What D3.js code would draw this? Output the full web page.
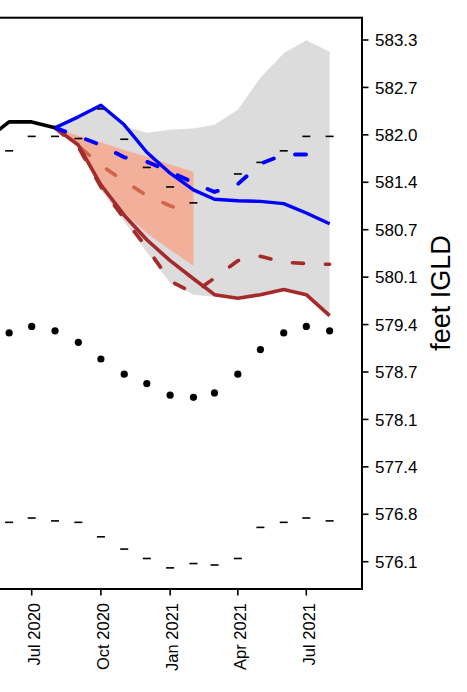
<!DOCTYPE html>
<html><head><meta charset="utf-8">
<script src="https://cdn.jsdelivr.net/npm/d3@7"></script>
<style>body{margin:0;background:#fff}svg{display:block}text{font-family:"Liberation Sans",Arial,Helvetica,sans-serif;fill:#000}</style>
</head><body><svg id="c" width="467" height="692"></svg>
<script>
// ---- data (feet IGLD) ----
const recordedMonths = ["2020-05","2020-06","2020-07","2020-08"];
const recorded = [581.95, 582.20, 582.20, 582.12];

const statMonths = ["2020-06","2020-07","2020-08","2020-09","2020-10","2020-11","2020-12","2021-01","2021-02","2021-03","2021-04","2021-05","2021-06","2021-07","2021-08"];
const recordHigh  = [581.80, 582.00, 582.00, 581.97, 582.38, 581.96, 581.57, 581.30, 581.08, 581.25, 581.48, 581.64, 581.80, 582.00, 582.00];
const longTermAvg = [579.28, 579.37, 579.31, 579.15, 578.92, 578.71, 578.58, 578.42, 578.39, 578.45, 578.71, 579.05, 579.28, 579.37, 579.31];
const recordLow   = [576.66, 576.72, 576.68, 576.66, 576.46, 576.29, 576.16, 576.03, 576.09, 576.07, 576.16, 576.59, 576.66, 576.72, 576.68];

const forecastMonths = ["2020-08","2020-09","2020-10","2020-11","2020-12","2021-01","2021-02","2021-03","2021-04","2021-05","2021-06","2021-07","2021-08"];
const blueSolid  = [582.12, 582.27, 582.43, 582.16, 581.78, 581.49, 581.26, 581.13, 581.11, 581.10, 581.07, 580.94, 580.79];
const blueDashed = [582.12, 582.00, 581.88, 581.71, 581.65, 581.51, 581.36, 581.23, 581.34, 581.62, 581.75, 581.75];
const redSolid   = [582.12, 581.88, 581.33, 580.91, 580.57, 580.28, 580.03, 579.81, 579.76, 579.81, 579.88, 579.81, 579.52];
const redDashed  = [582.12, 581.85, 581.30, 580.86, 580.46, 580.00, 579.83, 580.04, 580.28, 580.34, 580.26, 580.24, 580.23];
const grayUpper  = [582.12, 582.27, 582.43, 582.14, 582.05, 582.09, 582.11, 582.16, 582.37, 582.81, 583.15, 583.33, 583.17];
const grayLower  = [582.12, 581.84, 581.26, 580.82, 580.40, 579.97, 579.81, 579.78, 579.75, 579.79, 579.86, 579.79, 579.52];

const shortMonths = ["2020-08","2020-09","2020-10","2020-11","2020-12","2021-01","2021-02"];
const salmonUpper  = [582.12, 582.01, 581.92, 581.81, 581.72, 581.61, 581.51];
const salmonLower  = [582.12, 581.87, 581.37, 580.95, 580.66, 580.43, 580.21];
const salmonDashed = [582.12, 581.87, 581.60, 581.38, 581.18, 581.04, 580.92];

const yTickMeters = [175.6, 175.8, 176.0, 176.2, 176.4, 176.6, 176.8, 177.0, 177.2, 177.4, 177.6, 177.8];
const yTickLabels = ["576.1","576.8","577.4","578.1","578.7","579.4","580.1","580.7","581.4","582.0","582.7","583.3"];
const xTickMonths = ["2020-07","2020-10","2021-01","2021-04","2021-07"];
const xTickLabels = ["Jul 2020","Oct 2020","Jan 2021","Apr 2021","Jul 2021"];
const yTitle = "feet IGLD";

// ---- layout ----
const FT = 3.28084;
const parse = d3.utcParse("%Y-%m");
const plot = {left: -200, right: 362, top: 17.7, bottom: 589};
const x = d3.scaleUtc().domain([parse("2020-07"), parse("2021-07")]).range([31.7, 306.3]);
const y = d3.scaleLinear().domain([175.6 * FT, 177.8 * FT]).range([561.7, 40]);

const svg = d3.select("#c");
const g = svg.append("g");
const zip = (ms, vs) => vs.map((v, i) => ({d: parse(ms[i]), v}));

// bands
const area = d3.area().x(d => x(d.d)).y0(d => y(d.lo)).y1(d => y(d.hi));
g.append("path").datum(forecastMonths.map((m, i) => ({d: parse(m), hi: grayUpper[i], lo: grayLower[i]})))
  .attr("d", area).attr("fill", "#dcdcdc");
g.append("path").datum(shortMonths.map((m, i) => ({d: parse(m), hi: salmonUpper[i], lo: salmonLower[i]})))
  .attr("d", area).attr("fill", "#f2b09a");

// record dashes and long-term average dots
function ticks(vals, color) {
  g.append("g").selectAll("line").data(zip(statMonths, vals)).join("line")
    .attr("x1", d => x(d.d) - 4).attr("x2", d => x(d.d) + 4)
    .attr("y1", d => y(d.v)).attr("y2", d => y(d.v))
    .attr("stroke", color).attr("stroke-width", 1.6);
}
ticks(recordHigh, "#000");
ticks(recordLow, "#000");
g.append("g").selectAll("circle").data(zip(statMonths, longTermAvg)).join("circle")
  .attr("cx", d => x(d.d)).attr("cy", d => y(d.v)).attr("r", 3.6).attr("fill", "#000");

const line = d3.line().x(d => x(d.d)).y(d => y(d.v));
function draw(ms, vals, color, w, dashed) {
  g.append("path").datum(zip(ms, vals)).attr("d", line).attr("fill", "none")
    .attr("stroke", color).attr("stroke-width", w)
    .attr("stroke-linecap", dashed ? "round" : "butt").attr("stroke-linejoin", "round")
    .attr("stroke-dasharray", dashed ? "11,22" : null);
}
draw(shortMonths, salmonDashed, "#d2634b", 3.6, true);
draw(forecastMonths, redDashed, "#a52a2a", 3.6, true);
draw(forecastMonths, redSolid, "#a52a2a", 3.6, false);
draw(forecastMonths.slice(0, blueDashed.length), blueDashed, "#0000ff", 3.9, true);
draw(forecastMonths, blueSolid, "#0000ff", 3.4, false);
draw(recordedMonths, recorded, "#000", 3.6, false);

// box
svg.append("rect").attr("x", plot.left).attr("y", plot.top)
  .attr("width", plot.right - plot.left).attr("height", plot.bottom - plot.top)
  .attr("fill", "none").attr("stroke", "#000").attr("stroke-width", 2);

// right axis
const ra = svg.append("g");
yTickMeters.forEach((m, i) => {
  const yy = y(m * FT);
  ra.append("line").attr("x1", plot.right).attr("x2", plot.right + 6.5).attr("y1", yy).attr("y2", yy)
    .attr("stroke", "#000").attr("stroke-width", 1.6);
  ra.append("text").attr("x", 375).attr("y", yy).attr("dy", "0.36em")
    .attr("font-size", "17px").text(yTickLabels[i]);
});
svg.append("text").attr("transform", "translate(450,293) rotate(-90)")
  .attr("text-anchor", "middle").attr("font-size", "27px").text(yTitle);

// bottom axis
xTickMonths.forEach((m, i) => {
  const xx = x(parse(m));
  svg.append("line").attr("x1", xx).attr("x2", xx).attr("y1", plot.bottom).attr("y2", plot.bottom + 6.5)
    .attr("stroke", "#000").attr("stroke-width", 1.6);
  svg.append("text").attr("transform", `translate(${xx + 8.3},603) rotate(-90)`)
    .attr("text-anchor", "end").attr("font-size", "16.5px").text(xTickLabels[i]);
});
</script></body></html>
